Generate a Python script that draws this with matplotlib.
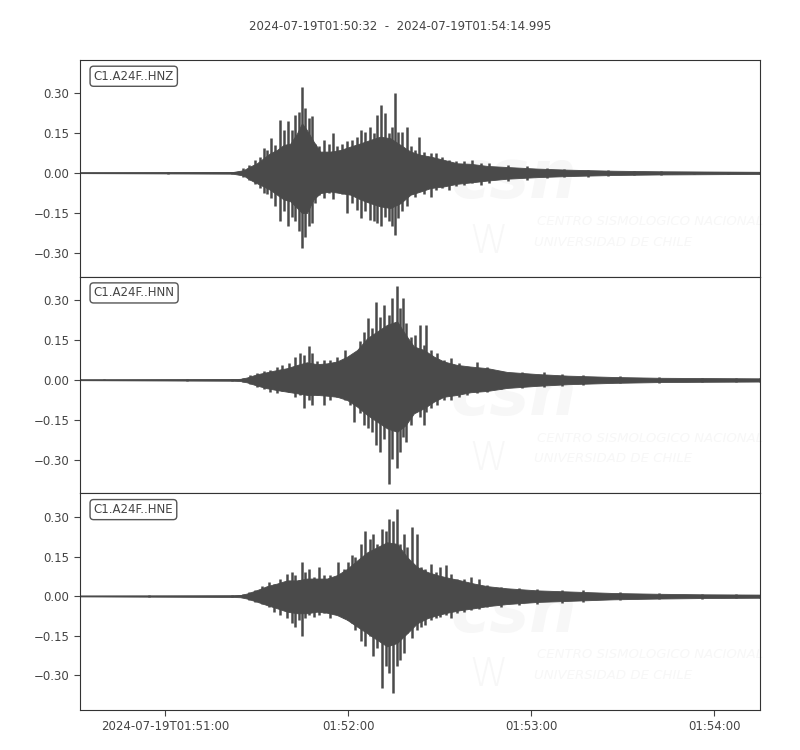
import numpy as np
import matplotlib
matplotlib.use("Agg")
import matplotlib.pyplot as plt
from datetime import datetime

# Trace start / end (ObsPy-style header)
start = datetime(2024, 7, 19, 1, 50, 32)
end_label = "2024-07-19T01:54:14.995"
duration = 222.995  # seconds

channels = ["C1.A24F..HNZ", "C1.A24F..HNN", "C1.A24F..HNE"]

# --- peaks (min/max spikes): seconds from start, amplitude ---
t_hnz = [0, 28, 29, 50, 53.6, 55.3, 57.5, 59.1, 60.2, 61.3, 62.6, 64.0, 65.7, 66.8,
         68.1, 69.5, 70.6, 71.7, 72.8, 73.9, 75.0, 76.1, 77.2, 78.3,
         79.9, 81.6, 83.0, 84.3, 86.0, 87.6, 89.2, 90.7, 92.0, 93.6,
         95.0, 96.4, 97.4, 98.8, 99.9, 101.3, 102.4, 103.3, 104.3, 105.6,
         107.1, 108.4, 110.0, 111.3, 112.8, 115.0, 116.8, 118.8, 121.0, 123.2,
         125.9, 128.6, 131.4, 134.1, 140.2, 146.7, 153.3, 158.8, 166.5, 173.0,
         181.8, 190.5, 201.5, 212.4, 223.0]
hi_hnz = [0.001, 0.001, 0.003, 0.004, 0.018, 0.03, 0.049, 0.06, 0.093, 0.086, 0.13, 0.105, 0.199, 0.16,
          0.193, 0.16, 0.218, 0.23, 0.324, 0.243, 0.205, 0.214, 0.11, 0.1,
          0.124, 0.11, 0.149, 0.1, 0.11, 0.118, 0.124, 0.136, 0.161, 0.155,
          0.174, 0.149, 0.218, 0.255, 0.224, 0.149, 0.174, 0.299, 0.155, 0.155,
          0.174, 0.1, 0.086, 0.136, 0.08, 0.074, 0.076, 0.06, 0.049, 0.043,
          0.043, 0.049, 0.036, 0.036, 0.03, 0.024, 0.018, 0.014, 0.011, 0.009,
          0.008, 0.006, 0.005, 0.005, 0.004]
lo_hnz = [-0.001, -0.001, -0.003, -0.004, -0.014, -0.026, -0.04, -0.057, -0.076, -0.08, -0.095, -0.126, -0.182, -0.145,
          -0.2, -0.164, -0.182, -0.22, -0.282, -0.24, -0.2, -0.19, -0.114, -0.082,
          -0.095, -0.076, -0.1, -0.07, -0.08, -0.151, -0.114, -0.14, -0.17, -0.145,
          -0.176, -0.182, -0.19, -0.2, -0.164, -0.182, -0.2, -0.232, -0.17, -0.145,
          -0.126, -0.08, -0.089, -0.07, -0.08, -0.089, -0.064, -0.057, -0.064, -0.051,
          -0.045, -0.039, -0.045, -0.039, -0.032, -0.026, -0.02, -0.016, -0.014, -0.011,
          -0.009, -0.007, -0.006, -0.006, -0.005]

t_hnn = [0, 8, 8.5, 34, 35, 50, 53.6, 55.8, 58.0, 60.2, 62.4, 64.6, 66.2, 68.4, 70.6, 72.3,
         73.6, 75.0, 76.1, 77.7, 79.9, 82.1, 84.3, 87.0, 88.7, 89.8,
         91.8, 93.1, 94.4, 95.8, 97.2, 98.5, 99.6, 101.3, 102.4, 104.0,
         105.1, 106.0, 106.8, 108.4, 110.0, 111.5, 112.8, 113.6, 115.0, 117.2,
         119.3, 121.5, 124.3, 127.0, 130.3, 133.6, 138, 145, 152, 158,
         165, 177, 190, 204, 215, 223.0]
hi_hnn = [0.002, 0.002, 0.001, 0.001, 0.003, 0.003, 0.006, 0.018, 0.025, 0.034, 0.037, 0.05, 0.056, 0.062, 0.087, 0.1,
          0.094, 0.125, 0.1, 0.069, 0.075, 0.075, 0.087, 0.112, 0.087, 0.094,
          0.144, 0.181, 0.231, 0.194, 0.293, 0.237, 0.281, 0.244, 0.306, 0.35,
          0.269, 0.306, 0.212, 0.162, 0.169, 0.206, 0.131, 0.206, 0.112, 0.1,
          0.075, 0.081, 0.062, 0.05, 0.066, 0.05, 0.035, 0.03, 0.028, 0.022,
          0.018, 0.013, 0.01, 0.008, 0.007, 0.006]
lo_hnn = [-0.002, -0.002, -0.001, -0.001, -0.003, -0.003, -0.006, -0.016, -0.025, -0.034, -0.044, -0.05, -0.04, -0.044, -0.063, -0.056,
          -0.106, -0.075, -0.094, -0.056, -0.094, -0.075, -0.063, -0.075, -0.094, -0.156,
          -0.125, -0.169, -0.181, -0.194, -0.244, -0.269, -0.219, -0.388, -0.294, -0.331,
          -0.269, -0.213, -0.231, -0.169, -0.119, -0.138, -0.169, -0.119, -0.106, -0.094,
          -0.075, -0.075, -0.063, -0.056, -0.05, -0.044, -0.035, -0.03, -0.027, -0.022,
          -0.018, -0.013, -0.01, -0.008, -0.007, -0.006]

t_hne = [0, 22, 22.5, 50, 53.6, 55.3, 57.5, 59.7, 61.9, 63.5, 65.7, 67.9, 69.5, 70.6,
         71.7, 72.8, 73.9, 75.0, 76.6, 78.3, 79.9, 82.1, 84.5, 86.5,
         87.8, 89.2, 90.3, 92.0, 93.6, 95.0, 96.1, 97.4, 98.9, 100.2,
         101.3, 102.7, 104.0, 105.1, 106.2, 107.3, 109.0, 110.4, 111.7, 113.3,
         115.0, 116.6, 118.2, 119.9, 121.5, 123.7, 125.9, 128.1, 130.8, 133.6,
         138, 144, 150, 158, 165, 177, 190, 204, 215, 223.0]
hi_hne = [0.001, 0.001, 0.003, 0.003, 0.008, 0.016, 0.023, 0.038, 0.054, 0.048, 0.067, 0.086, 0.092, 0.08,
          0.06, 0.13, 0.092, 0.104, 0.073, 0.111, 0.08, 0.08, 0.13, 0.104,
          0.13, 0.155, 0.149, 0.199, 0.249, 0.218, 0.237, 0.199, 0.255, 0.249,
          0.293, 0.287, 0.331, 0.199, 0.237, 0.186, 0.262, 0.237, 0.111, 0.104,
          0.123, 0.092, 0.111, 0.117, 0.086, 0.067, 0.067, 0.073, 0.067, 0.042,
          0.035, 0.03, 0.028, 0.022, 0.025, 0.015, 0.011, 0.009, 0.007, 0.006]
lo_hne = [-0.001, -0.001, -0.003, -0.003, -0.005, -0.015, -0.021, -0.028, -0.04, -0.059, -0.072, -0.084, -0.103, -0.116,
          -0.09, -0.153, -0.084, -0.072, -0.078, -0.072, -0.065, -0.084, -0.059, -0.084,
          -0.09, -0.103, -0.128, -0.172, -0.191, -0.153, -0.229, -0.197, -0.348, -0.267,
          -0.292, -0.367, -0.267, -0.242, -0.216, -0.141, -0.16, -0.128, -0.116, -0.109,
          -0.09, -0.084, -0.078, -0.072, -0.084, -0.065, -0.059, -0.053, -0.047, -0.04,
          -0.04, -0.035, -0.03, -0.025, -0.022, -0.015, -0.011, -0.009, -0.007, -0.006]

# --- dense core of each trace (where the wiggles merge into a solid band) ---
tc_hnz = [0, 50, 53.6, 55.8, 58.0, 60.2, 62.4, 64.6, 66.8, 69.0, 71.2, 72.8, 74.4, 76.6,
          78.8, 82.1, 85.4, 88.7, 92.0, 95.2, 98.5, 101.8, 105.1, 108.4, 111.7,
          115.0, 119.3, 123.7, 128.1, 133.6, 140, 150, 160, 175, 190, 223]
ch_hnz = [0.001, 0.003, 0.01, 0.024, 0.036, 0.055, 0.074, 0.086, 0.105, 0.11, 0.149, 0.186, 0.161, 0.118,
          0.08, 0.08, 0.086, 0.099, 0.111, 0.124, 0.136, 0.13, 0.105, 0.08, 0.068,
          0.061, 0.049, 0.036, 0.034, 0.026, 0.022, 0.016, 0.012, 0.008, 0.006, 0.004]
cl_hnz = [-0.001, -0.003, -0.01, -0.026, -0.039, -0.051, -0.064, -0.082, -0.1, -0.107, -0.132, -0.151, -0.151, -0.1,
          -0.076, -0.07, -0.076, -0.082, -0.1, -0.114, -0.126, -0.132, -0.114, -0.082, -0.07,
          -0.057, -0.051, -0.041, -0.036, -0.029, -0.022, -0.016, -0.012, -0.008, -0.006, -0.004]

tc_hnn = [0, 50, 52.5, 54.7, 58.0, 61.3, 64.6, 67.9, 71.2, 74.4, 77.7, 81.0, 84.3, 87.6,
          90.9, 94.2, 97.4, 100.7, 104.0, 106.8, 109.5, 112.8, 116.1, 119.3, 123.7,
          128.1, 133.6, 140, 150, 160, 175, 190, 205, 223]
ch_hnn = [0.001, 0.003, 0.004, 0.009, 0.021, 0.029, 0.037, 0.044, 0.056, 0.066, 0.059, 0.062, 0.069, 0.087,
          0.112, 0.156, 0.181, 0.206, 0.219, 0.169, 0.125, 0.112, 0.087, 0.069, 0.056,
          0.05, 0.044, 0.03, 0.022, 0.016, 0.011, 0.008, 0.007, 0.006]
cl_hnn = [-0.001, -0.003, -0.004, -0.009, -0.021, -0.031, -0.038, -0.044, -0.05, -0.056, -0.056, -0.059, -0.063, -0.075,
          -0.1, -0.131, -0.156, -0.181, -0.194, -0.169, -0.125, -0.106, -0.081, -0.063, -0.056,
          -0.046, -0.041, -0.03, -0.022, -0.016, -0.011, -0.008, -0.007, -0.006]

tc_hne = [0, 50, 52.5, 54.7, 58.0, 61.3, 64.6, 67.9, 71.2, 74.4, 77.7, 81.0, 84.3, 87.6,
          90.9, 94.2, 97.4, 100.7, 104.0, 107.3, 110.6, 113.9, 117.2, 120.4, 124.8,
          129.2, 133.6, 140, 150, 160, 175, 190, 205, 223]
ch_hne = [0.001, 0.003, 0.004, 0.01, 0.023, 0.038, 0.048, 0.06, 0.06, 0.067, 0.067, 0.067, 0.08, 0.104,
          0.136, 0.167, 0.186, 0.205, 0.199, 0.148, 0.111, 0.092, 0.08, 0.071, 0.06,
          0.048, 0.038, 0.03, 0.022, 0.018, 0.012, 0.009, 0.007, 0.006]
cl_hne = [-0.001, -0.003, -0.004, -0.009, -0.021, -0.034, -0.046, -0.059, -0.065, -0.065, -0.059, -0.063, -0.072, -0.09,
          -0.116, -0.141, -0.166, -0.191, -0.178, -0.141, -0.103, -0.084, -0.072, -0.063, -0.053,
          -0.046, -0.038, -0.03, -0.022, -0.018, -0.012, -0.009, -0.007, -0.006]

peaks = [(t_hnz, hi_hnz, lo_hnz), (t_hnn, hi_hnn, lo_hnn), (t_hne, hi_hne, lo_hne)]
cores = [(tc_hnz, ch_hnz, cl_hnz), (tc_hnn, ch_hnn, cl_hnn), (tc_hne, ch_hne, cl_hne)]
ylims = [(-0.39, 0.424), (-0.424, 0.386), (-0.433, 0.391)]

ytick_vals = [-0.30, -0.15, 0.0, 0.15, 0.30]
ytick_labels = ["\u22120.30", "\u22120.15", "0.00", "0.15", "0.30"]
xtick_times = ["01:51:00", "01:52:00", "01:53:00", "01:54:00"]
xtick_labels = ["2024-07-19T01:51:00", "01:52:00", "01:53:00", "01:54:00"]

plt.rcParams['font.family'] = ['DejaVu Sans']
wave_color = '#4a4a4a'
text_color = '#444444'
logo_color = '#f7f7f7'

fig, axes = plt.subplots(3, 1, figsize=(8, 7.5), dpi=100, sharex=True)
fig.subplots_adjust(left=0.1, right=0.95, top=0.92, bottom=0.0533, hspace=0)

xtick_pos = []
for s in xtick_times:
    hh, mm, ss = [int(v) for v in s.split(":")]
    xtick_pos.append((datetime(2024, 7, 19, hh, mm, ss) - start).total_seconds())

for ax, name, pk, co, yl in zip(axes, channels, peaks, cores, ylims):
    t, hi, lo = [np.array(a) for a in pk]
    tc, ch, cl = [np.array(a) for a in co]

    # faint CSN watermark behind the trace
    ax.text(0.545, 0.45, "csn", transform=ax.transAxes, fontsize=48, fontstyle='italic',
            fontweight='bold', color=logo_color, ha='left', va='center', zorder=0)
    ax.text(0.572, 0.16, "W", transform=ax.transAxes, fontsize=28, fontweight='light',
            color=logo_color, ha='left', va='center', zorder=0)
    ax.text(0.672, 0.255, "CENTRO SISMOLOGICO NACIONAL", transform=ax.transAxes, fontsize=9.5,
            fontstyle='italic', color=logo_color, ha='left', va='center', zorder=0)
    ax.text(0.668, 0.16, "UNIVERSIDAD DE CHILE", transform=ax.transAxes, fontsize=9.5,
            fontstyle='italic', color=logo_color, ha='left', va='center', zorder=0)

    # solid band + individual spikes
    ax.fill_between(tc, cl, ch, color=wave_color, lw=0.6, edgecolor=wave_color, zorder=2)
    ax.vlines(t, lo, hi, color=wave_color, lw=1.8, zorder=2)
    ax.plot(t, (hi + lo) / 2, color=wave_color, lw=1.0, zorder=2)

    ax.set_xlim(0, duration)
    ax.set_ylim(*yl)
    ax.set_yticks(ytick_vals)
    ax.set_yticklabels(ytick_labels)
    ax.tick_params(axis='both', colors=text_color, labelsize=8.5, length=4)
    for sp in ax.spines.values():
        sp.set_color('#333333')

    ax.text(0.02, 0.955, name, transform=ax.transAxes, ha='left', va='top',
            fontsize=8.5, color=text_color,
            bbox=dict(boxstyle='round,pad=0.3', fc='white', ec='#555555', lw=1.0))

for ax in axes[:-1]:
    ax.tick_params(axis='x', bottom=False, labelbottom=False)

axes[-1].set_xticks(xtick_pos)
axes[-1].set_xticklabels(xtick_labels)

fig.suptitle(start.strftime("%Y-%m-%dT%H:%M:%S") + "  -  " + end_label,
             y=0.973, fontsize=8.5, color=text_color)

fig.savefig("out.png", dpi=100)
